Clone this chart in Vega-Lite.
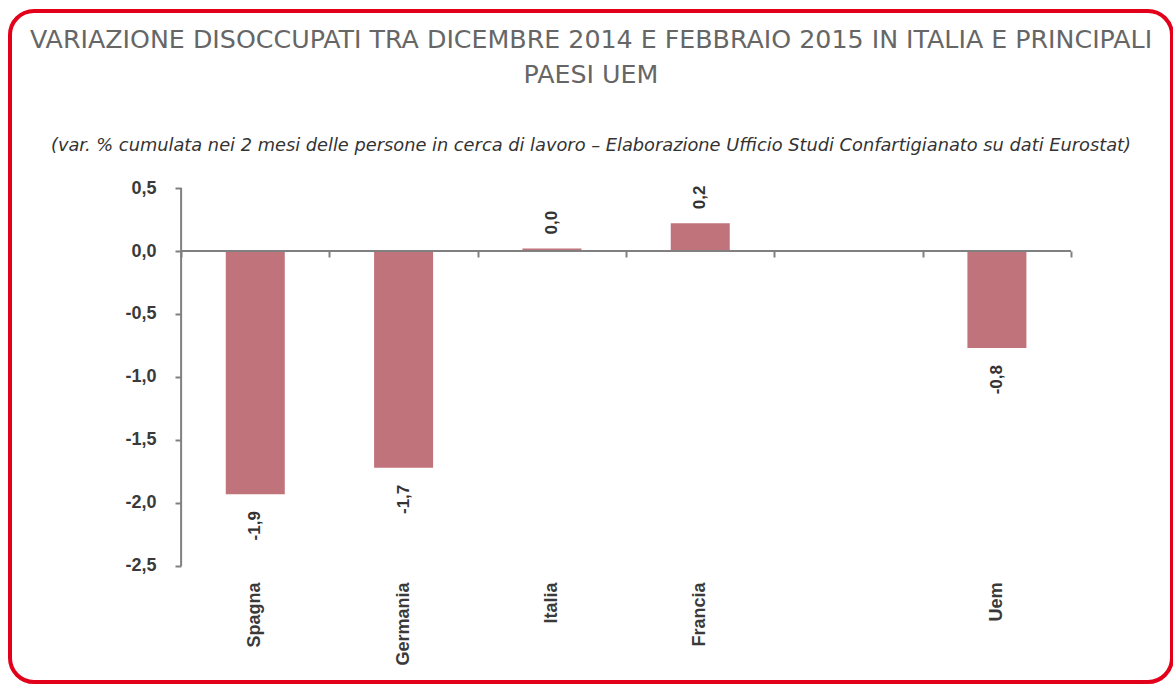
{
  "$schema": "https://vega.github.io/schema/vega-lite/v6.json",
  "width": 1162,
  "height": 671,
  "autosize": {"type": "none"},
  "padding": {"left": 10, "top": 11, "right": 1, "bottom": 2},
  "background": "white",
  "config": {
    "view": {"stroke": "#e2001a", "strokeWidth": 4, "cornerRadius": 24, "fill": "white"},
    "locale": {"number": {"decimal": ",", "thousands": ".", "grouping": [3], "currency": ["", " €"], "minus": "-"}}
  },
  "title": {
    "text": ["VARIAZIONE DISOCCUPATI TRA DICEMBRE 2014 E FEBBRAIO 2015 IN ITALIA E PRINCIPALI", "PAESI UEM"],
    "subtitle": "(var. % cumulata nei 2 mesi delle persone in cerca di lavoro – Elaborazione Ufficio Studi Confartigianato su dati Eurostat)",
    "anchor": "middle",
    "frame": "group",
    "orient": "top",
    "offset": -144,
    "font": "DejaVu Sans",
    "fontSize": 25.3,
    "fontWeight": "normal",
    "color": "#666666",
    "lineHeight": 35,
    "subtitleFont": "DejaVu Sans",
    "subtitleFontSize": 17.8,
    "subtitleFontStyle": "italic",
    "subtitleFontWeight": "normal",
    "subtitleColor": "#333333",
    "subtitlePadding": 49
  },
  "data": {
    "values": [
      {"paese": "Spagna", "var": -1.93},
      {"paese": "Germania", "var": -1.72},
      {"paese": "Italia", "var": 0.02},
      {"paese": "Francia", "var": 0.22},
      {"paese": "Uem", "var": -0.77}
    ]
  },
  "resolve": {"scale": {"x": "shared", "y": "shared"}, "axis": {"x": "independent"}},
  "layer": [
    {
      "mark": {"type": "bar", "width": 59, "color": "#c0737a"},
      "encoding": {
        "x": {
          "field": "paese", "type": "nominal",
          "scale": {"type": "band", "domain": ["Spagna", "Germania", "Italia", "Francia", " ", "Uem"], "paddingInner": 0, "paddingOuter": 0.917, "align": 0.629},
          "sort": null,
          "axis": {"orient": "bottom", "title": null, "labelAngle": 270, "offset": -102, "labelPadding": 2, "ticks": false, "domain": false, "labelFont": "Liberation Sans", "labelFontWeight": "bold", "labelFontSize": 18, "labelColor": "#3a3a3a"}
        },
        "y": {
          "field": "var", "type": "quantitative",
          "scale": {"domain": [-3.421, 1.905], "nice": false, "zero": false},
          "axis": {"title": null, "orient": "left", "offset": -171, "values": [-2.5, -2, -1.5, -1, -0.5, 0, 0.5], "format": ".1f", "domain": false, "grid": false, "tickSize": 6, "tickWidth": 2, "tickColor": "#808080", "labelPadding": 19, "labelFont": "Liberation Sans", "labelFontWeight": "bold", "labelFontSize": 18, "labelColor": "#3a3a3a"}
        },
        "y2": {"datum": 0}
      }
    },
    {
      "data": {"values": [{}]},
      "mark": {"type": "rule", "color": "#808080", "strokeWidth": 2},
      "encoding": {
        "x": {"datum": "Spagna", "type": "nominal", "bandPosition": 0, "axis": null},
        "y": {"datum": -2.5, "type": "quantitative"},
        "y2": {"datum": 0.5}
      }
    },
    {
      "data": {"values": [{}]},
      "mark": {"type": "rule", "color": "#808080", "strokeWidth": 2},
      "encoding": {
        "x": {"datum": "Spagna", "type": "nominal", "bandPosition": 0, "axis": null},
        "x2": {"datum": "Uem", "bandPosition": 1},
        "y": {"datum": 0, "type": "quantitative"}
      }
    },
    {
      "transform": [{"filter": "datum['var'] >= 0"}],
      "mark": {"type": "text", "angle": 270, "align": "left", "baseline": "middle", "dx": 14, "font": "Liberation Sans", "fontWeight": "bold", "fontSize": 17, "color": "#333333"},
      "encoding": {
        "x": {"field": "paese", "type": "nominal", "sort": null,
          "axis": {"orient": "top", "title": null, "offset": -240, "labels": false, "domain": false, "ticks": true, "tickBand": "extent", "tickSize": -6, "tickWidth": 2, "tickColor": "#808080"}},
        "y": {"field": "var", "type": "quantitative"},
        "text": {"field": "var", "type": "quantitative", "format": ".1f"}
      }
    },
    {
      "transform": [{"filter": "datum['var'] < 0"}],
      "mark": {"type": "text", "angle": 270, "align": "right", "baseline": "middle", "dx": -17, "font": "Liberation Sans", "fontWeight": "bold", "fontSize": 17, "color": "#333333"},
      "encoding": {
        "x": {"field": "paese", "type": "nominal", "sort": null, "axis": null},
        "y": {"field": "var", "type": "quantitative"},
        "text": {"field": "var", "type": "quantitative", "format": ".1f"}
      }
    }
  ]
}
